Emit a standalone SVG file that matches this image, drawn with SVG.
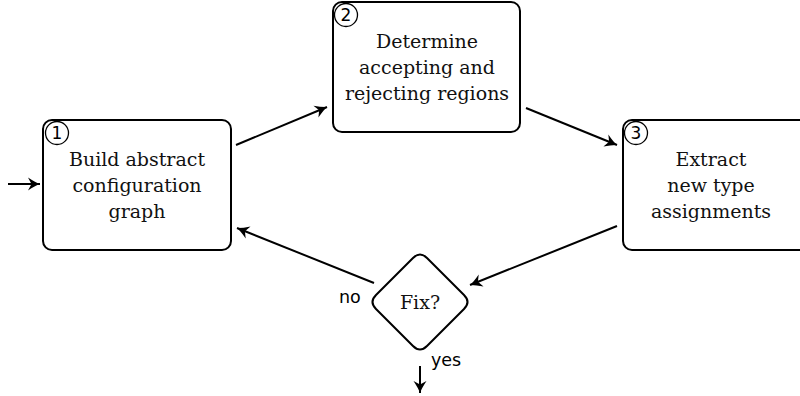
<svg xmlns="http://www.w3.org/2000/svg" width="800" height="396" viewBox="0 0 800 396">
  <style>
    .box { fill: #fff; stroke: #000; stroke-width: 2; }
    .num { fill: #fff; stroke: #000; stroke-width: 1.3; }
    .label { font-family: "DejaVu Serif", "Liberation Serif", serif; font-size: 19px; fill: #111; text-anchor: middle; }
    .numtxt { font-family: "DejaVu Sans", sans-serif; font-size: 17px; fill: #000; text-anchor: middle; }
    .edge { fill: none; stroke: #000; stroke-width: 2; marker-end: url(#arrow); }
    .tag { font-family: "DejaVu Sans", sans-serif; font-size: 17.5px; fill: #000; }
  </style>
  <defs>
    <!-- stealth-style arrow tip with a concave back -->
    <marker id="arrow" viewBox="-14 -8 16 16" refX="0" refY="0" markerWidth="16" markerHeight="16" markerUnits="userSpaceOnUse" orient="auto">
      <path d="M-12,-6.5 Q-5,-1.8 0,0 Q-5,1.8 -12,6.5 L-8.5,0 Z" fill="#000"/>
    </marker>
  </defs>
  <rect width="800" height="396" fill="#fff"/>

  <g id="edges">
    <line class="edge" x1="8" y1="184" x2="40" y2="184"/>
    <line class="edge" x1="236" y1="145" x2="327" y2="107"/>
    <line class="edge" x1="526" y1="108" x2="617" y2="145"/>
    <line class="edge" x1="617" y1="226" x2="470" y2="285"/>
    <line class="edge" x1="374" y1="283" x2="237" y2="228"/>
    <line class="edge" x1="420" y1="366" x2="420" y2="393"/>
  </g>

  <g id="node1">
    <rect class="box" x="43" y="120" width="188" height="130" rx="9"/>
    <circle class="num" cx="57" cy="133" r="11.5"/>
    <text class="numtxt" x="57" y="139">1</text>
    <text class="label" x="137" y="166">Build abstract</text>
    <text class="label" x="137" y="192">configuration</text>
    <text class="label" x="137" y="218">graph</text>
  </g>

  <g id="node2">
    <rect class="box" x="333" y="2" width="187" height="130" rx="9"/>
    <circle class="num" cx="346" cy="15" r="11.5"/>
    <text class="numtxt" x="346" y="21">2</text>
    <text class="label" x="427" y="48">Determine</text>
    <text class="label" x="427" y="74">accepting and</text>
    <text class="label" x="427" y="100">rejecting regions</text>
  </g>

  <g id="node3">
    <rect class="box" x="623" y="120" width="190" height="130" rx="9"/>
    <circle class="num" cx="636" cy="133" r="11.5"/>
    <text class="numtxt" x="636" y="139">3</text>
    <text class="label" x="711" y="166">Extract</text>
    <text class="label" x="711" y="192">new type</text>
    <text class="label" x="711" y="218">assignments</text>
  </g>

  <g id="decision">
    <path class="box" d="M413,258 Q420,251 427,258 L464,295 Q471,302 464,309 L427,346 Q420,353 413,346 L376,309 Q369,302 376,295 Z"/>
    <text class="label" x="420" y="309">Fix?</text>
  </g>

  <text class="tag" x="339" y="303">no</text>
  <text class="tag" x="431" y="366">yes</text>
</svg>
